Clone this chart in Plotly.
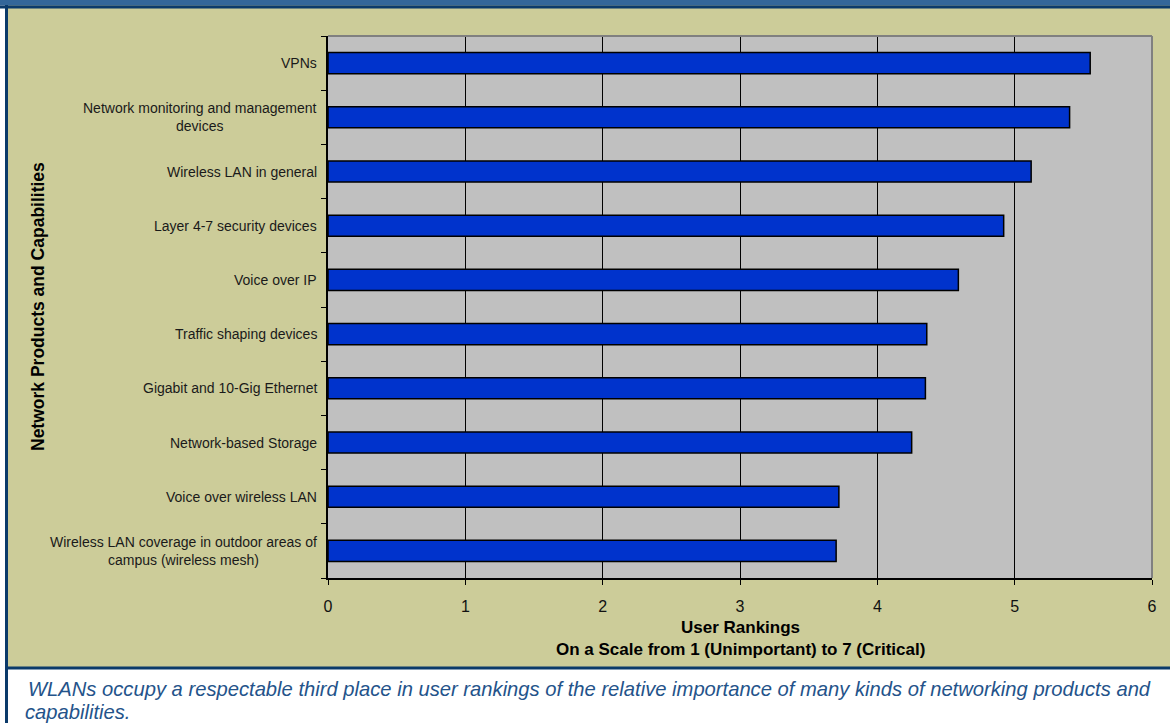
import plotly.graph_objects as go

# ---- data ----
categories = [
    "VPNs",
    "Network monitoring and management devices",
    "Wireless LAN in general",
    "Layer 4-7 security devices",
    "Voice over IP",
    "Traffic shaping devices",
    "Gigabit and 10-Gig Ethernet",
    "Network-based Storage",
    "Voice over wireless LAN",
    "Wireless LAN coverage in outdoor areas of campus (wireless mesh)",
]
labels = [
    "VPNs",
    "Network monitoring and management<br>devices",
    "Wireless LAN in general",
    "Layer 4-7 security devices",
    "Voice over IP",
    "Traffic shaping devices",
    "Gigabit and 10-Gig Ethernet",
    "Network-based Storage",
    "Voice over wireless LAN",
    "Wireless LAN coverage in outdoor areas of<br>campus (wireless mesh)",
]
values = [5.55, 5.40, 5.12, 4.92, 4.59, 4.36, 4.35, 4.25, 3.72, 3.70]
x_ticks = [0, 1, 2, 3, 4, 5, 6]

x_title_1 = "User Rankings"
x_title_2 = "On a Scale from 1 (Unimportant) to 7 (Critical)"
y_title = "Network Products and Capabilities"
caption_1 = "WLANs occupy a respectable third place in user rankings of the relative importance of many kinds of networking products and"
caption_2 = "capabilities."

# ---- geometry ----
W, H = 1170, 723
ML, MR, MT, MB = 328, 18, 36, 145
PW, PH = W - ML - MR, H - MT - MB


def px(x):
    return (x - ML) / PW


def py(y):
    return (H - MB - y) / PH


KHAKI = "#CCCC99"
NAVY = "#0B3A6A"
BANNER = "#336699"
FONT = "Liberation Sans, Arial"

fig = go.Figure()
fig.add_trace(go.Bar(
    y=categories, x=values, orientation="h",
    marker=dict(color="#0033CC", line=dict(color="#000000", width=1.5)),
    hoverinfo="skip",
))

shapes = []
# white caption area
shapes.append(dict(type="rect", xref="paper", yref="paper", x0=px(0), x1=px(W), y0=py(668), y1=py(H + 2),
                   fillcolor="white", line=dict(width=0), layer="below"))
# white strip left
shapes.append(dict(type="rect", xref="paper", yref="paper", x0=px(-2), x1=px(5), y0=py(0), y1=py(H + 2),
                   fillcolor="white", line=dict(width=0), layer="below"))
# caption separator
shapes.append(dict(type="rect", xref="paper", yref="paper", x0=px(5), x1=px(W + 2), y0=py(669.5), y1=py(666.5),
                   fillcolor=NAVY, line=dict(width=0), layer="below"))
# banner
shapes.append(dict(type="rect", xref="paper", yref="paper", x0=px(-2), x1=px(W + 2), y0=py(5.5), y1=py(-2),
                   fillcolor=BANNER, line=dict(width=0), layer="below"))
shapes.append(dict(type="rect", xref="paper", yref="paper", x0=px(-2), x1=px(W + 2), y0=py(8.5), y1=py(5.5),
                   fillcolor=NAVY, line=dict(width=0), layer="below"))
# left border
shapes.append(dict(type="rect", xref="paper", yref="paper", x0=px(5), x1=px(8), y0=py(H + 2), y1=py(5),
                   fillcolor=NAVY, line=dict(width=0), layer="below"))
# plot frame top/right gray
shapes.append(dict(type="line", xref="paper", yref="paper", x0=0, x1=1.0, y0=1, y1=1,
                   line=dict(color="#808080", width=2), layer="above"))
shapes.append(dict(type="line", xref="paper", yref="paper", x0=1, x1=1, y0=0, y1=1,
                   line=dict(color="#808080", width=2), layer="above"))

annotations = []
for cat, lab in zip(categories, labels):
    annotations.append(dict(xref="paper", yref="y", x=px(ML - 9), y=cat, text=lab,
                            xanchor="right", yanchor="middle", align="center", showarrow=False,
                            font=dict(family=FONT, size=14, color="#1a1a1a")))
annotations.append(dict(xref="paper", yref="paper", x=px(38), y=0.5, text="<b>" + y_title + "</b>",
                        textangle=-90, showarrow=False, xanchor="center", yanchor="middle",
                        font=dict(family=FONT, size=17.5, color="#000000")))
annotations.append(dict(xref="paper", yref="paper", x=0.5, y=py(627), text="<b>" + x_title_1 + "</b>",
                        showarrow=False, xanchor="center", yanchor="middle",
                        font=dict(family=FONT, size=17, color="#000000")))
annotations.append(dict(xref="paper", yref="paper", x=0.5, y=py(649), text="<b>" + x_title_2 + "</b>",
                        showarrow=False, xanchor="center", yanchor="middle",
                        font=dict(family=FONT, size=17, color="#000000")))
annotations.append(dict(xref="paper", yref="paper", x=px(26), y=py(688.5), text="<i>" + caption_1 + "</i>",
                        showarrow=False, xanchor="left", yanchor="middle",
                        font=dict(family=FONT, size=20.2, color="#24538A")))
annotations.append(dict(xref="paper", yref="paper", x=px(23), y=py(711.5), text="<i>" + caption_2 + "</i>",
                        showarrow=False, xanchor="left", yanchor="middle",
                        font=dict(family=FONT, size=20.2, color="#24538A")))

fig.update_layout(
    width=W, height=H,
    margin=dict(l=ML, r=MR, t=MT, b=MB, pad=0),
    paper_bgcolor=KHAKI,
    plot_bgcolor="#C0C0C0",
    showlegend=False,
    bargap=0.61,
    shapes=shapes,
    annotations=annotations,
    xaxis=dict(
        range=[0, 6], tickvals=x_ticks, ticktext=[str(t) for t in x_ticks],
        showgrid=True, gridcolor="#000000", gridwidth=1,
        showline=True, linecolor="#000000", linewidth=1.5,
        ticks="outside", ticklen=5, tickcolor="#000000",
        ticklabelstandoff=8,
        tickfont=dict(family=FONT, size=16, color="#111111"),
        zeroline=False, fixedrange=True,
    ),
    yaxis=dict(
        categoryorder="array", categoryarray=categories[::-1],
        showticklabels=False, showgrid=False,
        showline=True, linecolor="#000000", linewidth=1.5,
        ticks="outside", ticklen=5, tickcolor="#000000", tickson="boundaries",
        zeroline=False, fixedrange=True,
    ),
)

fig.write_html("out.html", config={"displayModeBar": False})
